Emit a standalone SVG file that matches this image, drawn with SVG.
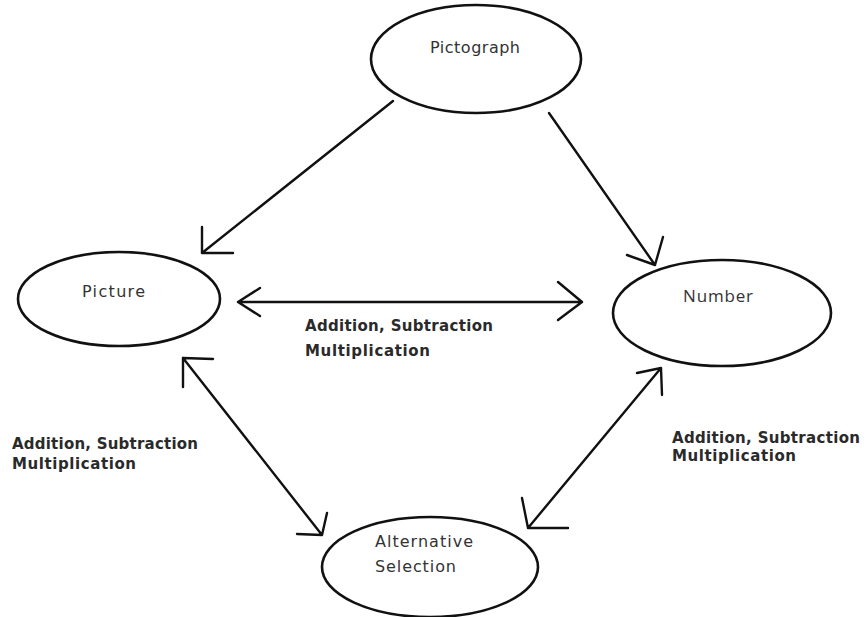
<svg xmlns="http://www.w3.org/2000/svg" width="866" height="617" viewBox="0 0 866 617">
<style>
.node{fill:#fff;stroke:#111;stroke-width:2.6}
.lbl{font-family:"DejaVu Sans","Liberation Sans",sans-serif;font-size:15px;fill:#2a2a2a;font-weight:bold}
.nl{font-family:"DejaVu Sans","Liberation Sans",sans-serif;font-size:16px;fill:#333}
.num{font-family:"Open Sans","Liberation Sans",sans-serif;font-size:17px;fill:#333}
.c{fill:none;stroke:#111;stroke-width:2.4;stroke-linecap:round;stroke-linejoin:round}
</style>
<rect width="866" height="617" fill="#fff"/>
<g id="connectors">
<path class="c" d="M393,101 L202,253 M202,227 L202,253 L233,253"/>
<path class="c" d="M549,113 L655,265 M627,255 L655,265 L663,237"/>
<path class="c" d="M238,302 L582,302 M260,288 L238,302 L260,316 M558,282 L582,302 L558,320"/>
<path class="c" d="M183,358 L322,535 M213,359 L183,358 L183,387 M297,534 L322,535 L327,513"/>
<path class="c" d="M661,368 L528,528 M637,373 L661,368 L662,395 M568,528 L528,528 L522,498"/>
<text class="lbl" x="305" y="331" textLength="188">Addition, Subtraction</text>
<text class="lbl" x="305" y="356" textLength="125">Multiplication</text>
<text class="lbl" x="12" y="449" textLength="186">Addition, Subtraction</text>
<text class="lbl" x="12" y="469" textLength="124">Multiplication</text>
<text class="lbl" x="672" y="443" textLength="188">Addition, Subtraction</text>
<text class="lbl" x="672" y="461" textLength="124">Multiplication</text>
</g>
<g id="pictograph">
<ellipse class="node" cx="476" cy="59" rx="105" ry="54"/>
<text class="nl" x="430" y="53" textLength="90">Pictograph</text>
</g>
<g id="picture">
<ellipse class="node" cx="119" cy="299" rx="101" ry="47"/>
<text class="nl" x="82" y="297" textLength="63">Picture</text>
</g>
<g id="number">
<ellipse class="node" cx="722" cy="313" rx="109" ry="53"/>
<text class="num" x="683" y="302" textLength="70">Number</text>
</g>
<g id="alternative">
<ellipse class="node" cx="430" cy="567" rx="108" ry="50"/>
<text class="nl" x="375" y="547" textLength="98">Alternative</text>
<text class="nl" x="375" y="572" textLength="81">Selection</text>
</g>
</svg>
